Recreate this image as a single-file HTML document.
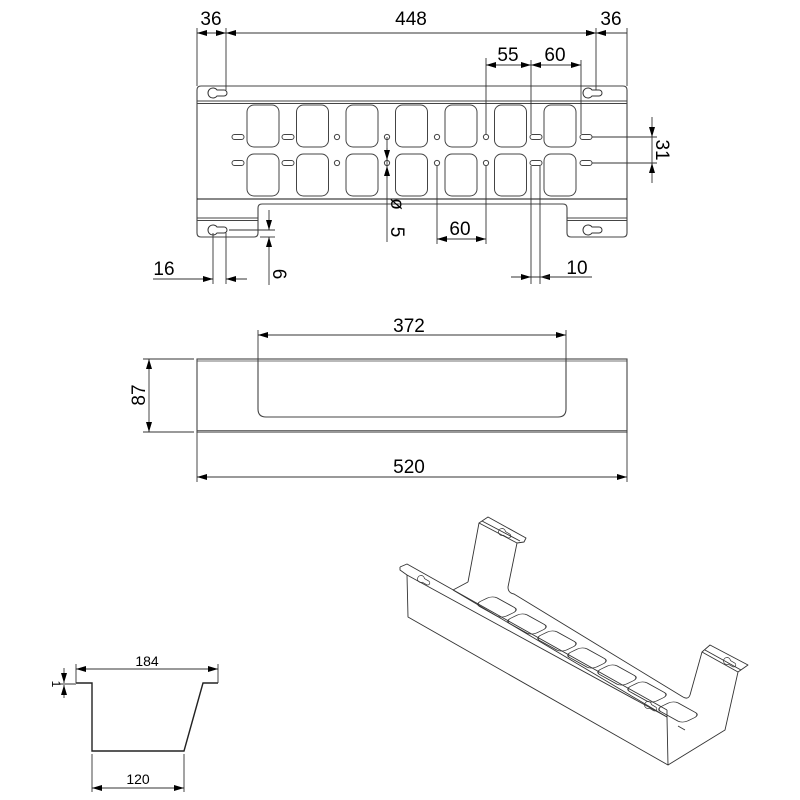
<!DOCTYPE html>
<html><head><meta charset="utf-8"><style>
html,body{margin:0;padding:0;background:#fff}
svg{display:block}
text{font-family:"Liberation Sans",sans-serif;fill:#000}
</style></head><body>
<svg width="800" height="800" viewBox="0 0 800 800" xmlns="http://www.w3.org/2000/svg">
<defs>
<marker id="a" viewBox="0 0 10 6" refX="10" refY="3" markerWidth="10" markerHeight="6" orient="auto-start-reverse" markerUnits="userSpaceOnUse"><path d="M0,0 L10,3 L0,6z" fill="#000"/></marker>
<g id="kh"><path d="M4,-3 L11,-3 A3,3 0 0 1 11,3 L4,3 A5,5 0 1 1 4,-3 Z" fill="none" stroke="#333" stroke-width="1"/></g>
<rect id="hole" x="0" y="0" width="32" height="42" rx="7" fill="none" stroke="#444" stroke-width="1"/>
<rect id="slot" x="-6" y="-2.5" width="12" height="5" rx="2.5" fill="none" stroke="#444" stroke-width="1"/>
<circle id="dot" r="2.6" fill="none" stroke="#444" stroke-width="1"/>
<rect id="isl" x="-15" y="-8" width="30" height="16" rx="5" fill="none" stroke="#333" stroke-width="0.9"/>
</defs>

<!-- ===== TOP VIEW ===== -->
<g fill="none" stroke="#444" stroke-width="1.1">
<path d="M197,90 Q197,86 201,86 L623,86 Q627,86 627,90 L627,233 Q627,237 623,237 L571,237 Q567,237 567,233 L567,208 Q567,204 563,204 L262,204 Q258,204 258,208 L258,233 Q258,237 254,237 L201,237 Q197,237 197,233 Z"/>
<line x1="197" y1="101" x2="627" y2="101"/><line x1="197" y1="103.5" x2="627" y2="103.5"/>
<line x1="197" y1="199" x2="627" y2="199" stroke="#111"/>
<line x1="197" y1="218" x2="258" y2="218"/><line x1="197" y1="220.5" x2="258" y2="220.5"/>
<line x1="567" y1="218" x2="627" y2="218"/><line x1="567" y1="220.5" x2="627" y2="220.5"/>
</g>
<use href="#kh" x="213" y="93"/><use href="#kh" x="588" y="93"/>
<use href="#kh" x="213" y="230"/><use href="#kh" x="588" y="230"/>
<g>
<use href="#hole" x="247" y="105"/><use href="#hole" x="296.5" y="105"/><use href="#hole" x="346" y="105"/><use href="#hole" x="395.5" y="105"/><use href="#hole" x="445" y="105"/><use href="#hole" x="494.5" y="105"/><use href="#hole" x="544" y="105"/>
<use href="#hole" x="247" y="154"/><use href="#hole" x="296.5" y="154"/><use href="#hole" x="346" y="154"/><use href="#hole" x="395.5" y="154"/><use href="#hole" x="445" y="154"/><use href="#hole" x="494.5" y="154"/><use href="#hole" x="544" y="154"/>
<use href="#slot" x="238" y="137"/><use href="#slot" x="288" y="137"/><use href="#slot" x="536" y="137"/><use href="#slot" x="586" y="137"/>
<use href="#slot" x="238" y="163"/><use href="#slot" x="288" y="163"/><use href="#slot" x="536" y="163"/><use href="#slot" x="586" y="163"/>
<use href="#dot" x="337" y="137"/><use href="#dot" x="387" y="137"/><use href="#dot" x="437" y="137"/><use href="#dot" x="486" y="137"/>
<use href="#dot" x="337" y="163"/><use href="#dot" x="387" y="163"/><use href="#dot" x="437" y="163"/><use href="#dot" x="486" y="163"/>
</g>
<!-- dims top -->
<g stroke="#333" stroke-width="0.9" fill="none">
<line x1="197" y1="28" x2="197" y2="86"/><line x1="226" y1="28" x2="226" y2="90"/>
<line x1="596" y1="28" x2="596" y2="90"/><line x1="627" y1="28" x2="627" y2="86"/>
<line x1="197" y1="33" x2="226" y2="33" marker-end="url(#a)"/>
<line x1="197" y1="33" x2="212" y2="33" marker-start="url(#a)"/>
<line x1="226" y1="33" x2="596" y2="33" marker-start="url(#a)" marker-end="url(#a)"/>
<line x1="580" y1="33" x2="596" y2="33" marker-end="url(#a)"/>
<line x1="596" y1="33" x2="627" y2="33" marker-start="url(#a)"/>
<line x1="486" y1="58" x2="486" y2="134"/><line x1="531" y1="60" x2="531" y2="134"/><line x1="581" y1="60" x2="581" y2="134"/>
<line x1="486" y1="65" x2="531" y2="65" marker-start="url(#a)" marker-end="url(#a)"/>
<line x1="531" y1="65" x2="581" y2="65" marker-start="url(#a)" marker-end="url(#a)"/>
<line x1="592" y1="137" x2="657" y2="137"/><line x1="592" y1="163" x2="657" y2="163"/>
<line x1="652" y1="117" x2="652" y2="137" marker-end="url(#a)"/>
<line x1="652" y1="183" x2="652" y2="163" marker-end="url(#a)"/>
<line x1="652" y1="137" x2="652" y2="163"/>
<line x1="387" y1="137" x2="387" y2="242"/>
<line x1="387" y1="148" x2="387" y2="160" marker-end="url(#a)"/>
<line x1="387" y1="178" x2="387" y2="166" marker-end="url(#a)"/>
<line x1="437" y1="166" x2="437" y2="244"/><line x1="486" y1="166" x2="486" y2="244"/>
<line x1="437" y1="239" x2="486" y2="239" marker-start="url(#a)" marker-end="url(#a)"/>
<line x1="531" y1="166" x2="531" y2="284"/><line x1="540" y1="166" x2="540" y2="284"/>
<line x1="511" y1="277" x2="531" y2="277" marker-end="url(#a)"/>
<line x1="560" y1="277" x2="540" y2="277" marker-end="url(#a)"/>
<line x1="531" y1="277" x2="592" y2="277"/>
<line x1="213" y1="233" x2="213" y2="284"/><line x1="226" y1="233" x2="226" y2="284"/>
<line x1="153" y1="279" x2="213" y2="279" marker-end="url(#a)"/>
<line x1="247" y1="279" x2="226" y2="279" marker-end="url(#a)"/>
<line x1="229" y1="230" x2="275" y2="230"/><line x1="260" y1="237" x2="275" y2="237"/>
<line x1="269" y1="210" x2="269" y2="230" marker-end="url(#a)"/>
<line x1="269" y1="285" x2="269" y2="237" marker-end="url(#a)"/>
</g>
<g font-size="19">
<text x="211" y="25" text-anchor="middle">36</text>
<text x="411" y="25" text-anchor="middle">448</text>
<text x="611" y="25" text-anchor="middle">36</text>
<text x="508" y="61" text-anchor="middle">55</text>
<text x="555" y="61" text-anchor="middle">60</text>
<text x="460" y="235" text-anchor="middle">60</text>
<text x="577" y="274" text-anchor="middle">10</text>
<text x="164" y="275" text-anchor="middle">16</text>
<text transform="translate(656,150) rotate(90)" text-anchor="middle">31</text>
<text transform="translate(391,204) rotate(90)" text-anchor="middle">ø</text>
<text transform="translate(391,232) rotate(90)" text-anchor="middle">5</text>
<text transform="translate(273,274) rotate(90)" text-anchor="middle">6</text>
</g>

<!-- ===== FRONT VIEW ===== -->
<g fill="none" stroke="#444" stroke-width="1.1">
<rect x="197" y="359" width="430" height="73"/>
<line x1="197" y1="361" x2="627" y2="361" stroke-width="0.8"/>
<line x1="197" y1="430.5" x2="627" y2="430.5" stroke-width="0.8"/>
<path d="M258,359 L258,409 Q258,417 266,417 L558,417 Q566,417 566,409 L566,359"/>
</g>
<g stroke="#333" stroke-width="0.9" fill="none">
<line x1="258" y1="330" x2="258" y2="359"/><line x1="566" y1="330" x2="566" y2="359"/>
<line x1="258" y1="335" x2="566" y2="335" marker-start="url(#a)" marker-end="url(#a)"/>
<line x1="143" y1="359" x2="194" y2="359"/><line x1="143" y1="432" x2="194" y2="432"/>
<line x1="149" y1="359" x2="149" y2="432" marker-start="url(#a)" marker-end="url(#a)"/>
<line x1="197" y1="432" x2="197" y2="482"/><line x1="627" y1="432" x2="627" y2="482"/>
<line x1="197" y1="477" x2="627" y2="477" marker-start="url(#a)" marker-end="url(#a)"/>
</g>
<g font-size="19">
<text x="409" y="332" text-anchor="middle">372</text>
<text x="409" y="473" text-anchor="middle">520</text>
<text transform="translate(145,395) rotate(-90)" text-anchor="middle">87</text>
</g>

<!-- ===== PROFILE ===== -->
<path d="M76,683 L92,683 L92,751 L184,751 L203,683 L218,683" fill="none" stroke="#222" stroke-width="1.4"/>
<g stroke="#333" stroke-width="0.9" fill="none">
<line x1="76" y1="664" x2="76" y2="683"/><line x1="218" y1="664" x2="218" y2="683"/>
<line x1="76" y1="669" x2="218" y2="669" marker-start="url(#a)" marker-end="url(#a)"/>
<line x1="92" y1="754" x2="92" y2="792"/><line x1="184" y1="754" x2="184" y2="792"/>
<line x1="92" y1="788" x2="184" y2="788" marker-start="url(#a)" marker-end="url(#a)"/>
<line x1="64" y1="668" x2="64" y2="683" marker-end="url(#a)"/>
<line x1="64" y1="698" x2="64" y2="685" marker-end="url(#a)"/>
<line x1="58" y1="684" x2="76" y2="684"/>
</g>
<g font-size="14">
<text x="147" y="666" text-anchor="middle">184</text>
<text x="138" y="784" text-anchor="middle">120</text>
<text transform="translate(52,684) rotate(90)" text-anchor="middle" font-size="12">1</text>
</g>

<!-- ===== ISOMETRIC ===== -->
<g fill="none" stroke="#333" stroke-width="0.9" stroke-linejoin="round">
<path d="M400,567 L407,564 L667,710"/>
<path d="M400,567 L400,570 L407,575 L667,717 L667,710"/>
<path d="M407,575 L408,617 L668,765 L667,717"/>
<path d="M668,765 L725,730 L738,672"/>
<path d="M453,590 L667,717"/>
<path d="M738,672 L748,665 L710,645 L702,652 L690,695 Q688,700 683,697"/>
<path d="M702,652 L738,672"/>
<path d="M705,650 L741,670"/>
<path d="M468,582 L479,523 L488,517 L526,538 L524,542 L517,543 L508,587 Q508,593 514,594 L683,697"/>
<path d="M479,523 L517,543"/>
<path d="M482,521 L520,541"/>
<path d="M468,582 L453,590"/>
</g>
<use href="#kh" transform="translate(421,579) rotate(30) scale(0.7)"/>
<use href="#kh" transform="translate(502,532) rotate(30) scale(0.7)"/>
<use href="#kh" transform="translate(648,705) rotate(30) scale(0.7)"/>
<use href="#kh" transform="translate(727,661) rotate(30) scale(0.7)"/>
<g>
<use href="#isl" transform="translate(497,607) rotate(29) skewX(-35)"/>
<use href="#isl" transform="translate(527,624) rotate(29) skewX(-35)"/>
<use href="#isl" transform="translate(557,641) rotate(29) skewX(-35)"/>
<use href="#isl" transform="translate(587,658) rotate(29) skewX(-35)"/>
<use href="#isl" transform="translate(617,675) rotate(29) skewX(-35)"/>
<use href="#isl" transform="translate(647,692) rotate(29) skewX(-35)"/>
<use href="#isl" transform="translate(678,712) rotate(29) skewX(-35)"/>
</g>
<line x1="678" y1="726" x2="685" y2="730" stroke="#333" stroke-width="0.9"/>
</svg>
</body></html>
